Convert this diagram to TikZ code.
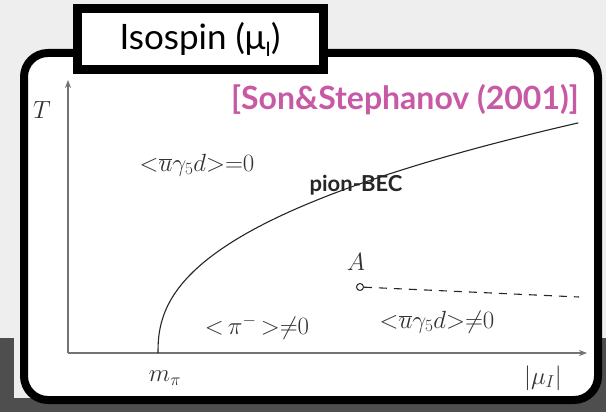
\documentclass[tikz,border=0pt]{standalone}
\usepackage{fontspec}
\newfontfamily\gillfont{Lato}
\usetikzlibrary{arrows.meta}
\definecolor{citepink}{RGB}{200,90,165}
\definecolor{bggray}{RGB}{238,238,238}
\definecolor{floorgray}{RGB}{78,78,78}
\tikzset{
  frame box/.style={
    draw=black, line width=8pt, rounded corners=24pt, fill=white
  },
  title box/.style={
    draw=black, line width=9pt, fill=white, inner sep=0pt,
    minimum width=246pt, minimum height=61pt,
    font=\gillfont\fontsize{35}{40}\selectfont
  },
  cite label/.style={
    text=citepink, inner sep=0pt, font=\gillfont\bfseries\fontsize{32}{36}\selectfont
  },
  axis line/.style={
    draw=black!55, line width=1.4pt, -{Stealth[length=8pt,width=6pt]}
  },
  phase line/.style={
    draw=black!85, line width=1.1pt
  },
  end point/.style={
    circle, draw=black!85, fill=white, line width=1pt, inner sep=0pt, minimum size=7pt
  },
  math label/.style={
    inner sep=0pt, text=black!80, font=\fontsize{24}{28}\selectfont
  }
}

\begin{document}
\begin{tikzpicture}[x=1pt, y=-1pt]

\useasboundingbox (0,0) rectangle (606,412);

% ---------------------------
% background and frame
% ---------------------------
\fill[bggray] (0,0) rectangle (606,412);
\fill[floorgray] (0,338) rectangle (14,412);
\fill[floorgray] (0,398) rectangle (606,412);
\fill[floorgray] (590,338) rectangle (606,412);
\draw[frame box] (24,53) rectangle (598,400);

\node[title box] (title) at (200,39.5)
  {Isospin (μ\raisebox{-0.22em}{\fontsize{20}{22}\selectfont I})};
\node[cite label] (cite) at (405,100) {[Son\&Stephanov (2001)]};

% ---------------------------
% axes
% ---------------------------
\coordinate (O) at (68,353);
\coordinate (Ttop) at (68,80);
\coordinate (Mend) at (587,353);
\draw[axis line] (O) -- (Ttop);
\draw[axis line] (O) -- (Mend);

\node[math label] (Tlab) at (42,110) {$T$};
\node[math label] (mpi lab) at (165,378) {$m_\pi$};
\node[math label] (mu lab) at (543,378) {$|\mu_I|$};

% ---------------------------
% phase boundary
% ---------------------------
\coordinate (mpi) at (158,353);
\draw[phase line] (mpi) -- plot[domain=0.05:20.5, samples=70, smooth]
  ({158+\x*\x}, {353-18.2*(\x)^0.84});
\node[inner sep=1pt, font=\gillfont\bfseries\fontsize{22}{26}\selectfont, text=black!85]
  (bec) at (356,185) {pion-BEC};

% ---------------------------
% crossover line from A
% ---------------------------
\node[end point] (A) at (360,287) {};
\node[math label] (Alab) at (356,262) {$A$};
\coordinate (Aend) at (579,297);
\draw[phase line, dash pattern=on 8pt off 7pt] (A) -- (Aend);

% ---------------------------
% condensates
% ---------------------------
\node[math label] (zero) at (197,165) {${<}\overline{u}\gamma_5 d{>}{=}0$};
\node[math label] (pion) at (257,327) {${<}\,\pi^{-}\,{>}{\neq}0$};
\node[math label] (nonzero) at (437,322) {${<}\overline{u}\gamma_5 d{>}{\neq}0$};

%
\end{tikzpicture}
\end{document}
